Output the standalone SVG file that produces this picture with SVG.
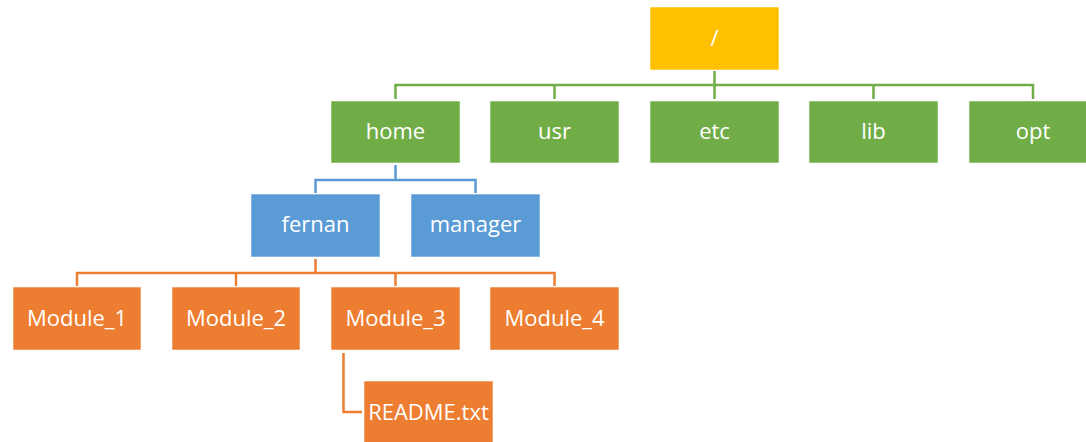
<svg xmlns="http://www.w3.org/2000/svg" width="1086" height="442" viewBox="0 0 1086 442">
<style>
.box{stroke:#ffffff;stroke-opacity:0.55;stroke-width:1}
.y{fill:#FFC000}.g{fill:#70AD47}.b{fill:#5B9BD5}.o{fill:#ED7D31}
text{font-family:"Open Sans","Liberation Sans",sans-serif;font-size:22px;fill:#ffffff;text-anchor:middle}
.c{fill:none;stroke-width:2.5;stroke-linejoin:miter}
</style>
<g id="connectors">
<path class="c" stroke="#70AD47" d="M714.5,71 V85 M395.5,99 V85 H1033 V99 M554.5,85 V99 M714.5,85 V99 M873.5,85 V99"/>
<path class="c" stroke="#5B9BD5" d="M395.5,165 V180 M315.5,193 V180 H475.5 V193"/>
<path class="c" stroke="#ED7D31" d="M315.5,259 V273 M77,286 V273 H554.5 V286 M236,273 V286 M395.5,273 V286"/>
<path class="c" stroke="#ED7D31" d="M343.5,353 V412 H362"/>
</g>
<g id="root"><rect class="box y" x="650" y="7" width="129" height="63"/><text x="714.5" y="46">/</text></g>
<g id="home"><rect class="box g" x="331" y="101" width="129" height="62"/><text x="395.5" y="139">home</text></g>
<g id="usr"><rect class="box g" x="490" y="101" width="129" height="62"/><text x="554.5" y="139">usr</text></g>
<g id="etc"><rect class="box g" x="650" y="101" width="129" height="62"/><text x="714.5" y="139">etc</text></g>
<g id="lib"><rect class="box g" x="809" y="101" width="129" height="62"/><text x="873.5" y="139">lib</text></g>
<g id="opt"><rect class="box g" x="969" y="101" width="129" height="62"/><text x="1033" y="139">opt</text></g>
<g id="fernan"><rect class="box b" x="251" y="194" width="129" height="63"/><text x="315.5" y="232">fernan</text></g>
<g id="manager"><rect class="box b" x="411" y="194" width="129" height="63"/><text x="475.5" y="232">manager</text></g>
<g id="module1"><rect class="box o" x="13" y="287" width="128" height="63"/><text x="77" y="326">Module_1</text></g>
<g id="module2"><rect class="box o" x="172" y="287" width="128" height="63"/><text x="236" y="326">Module_2</text></g>
<g id="module3"><rect class="box o" x="331" y="287" width="129" height="63"/><text x="395.5" y="326">Module_3</text></g>
<g id="module4"><rect class="box o" x="490" y="287" width="129" height="63"/><text x="554.5" y="326">Module_4</text></g>
<g id="readme"><rect class="box o" x="364" y="381" width="129" height="63"/><text x="428.5" y="420">README.txt</text></g>
</svg>
